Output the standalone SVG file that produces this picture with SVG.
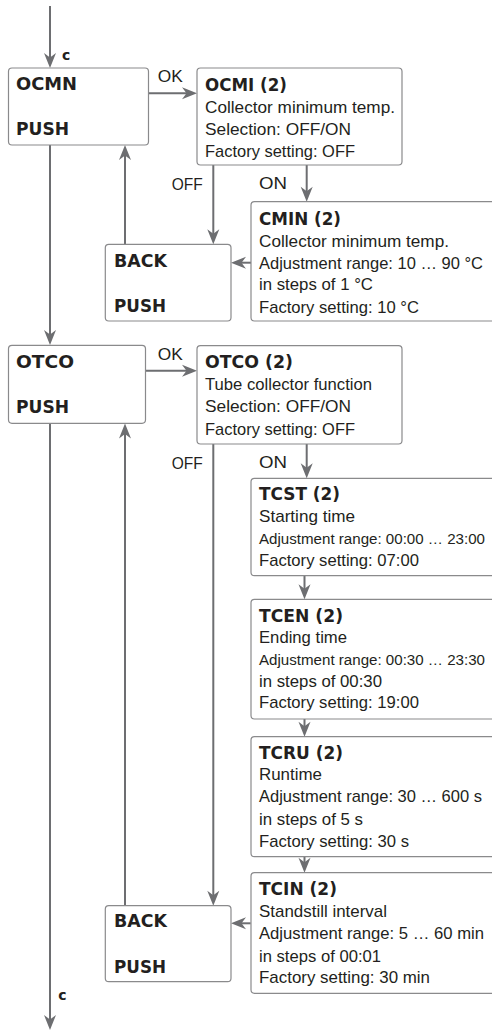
<svg xmlns="http://www.w3.org/2000/svg" width="492" height="1032" viewBox="0 0 492 1032">
<style>
.box{fill:#ffffff;stroke:#8a8a8c;stroke-width:1.2}
.t{font-family:"Liberation Sans",Arial,sans-serif;font-size:17px;fill:#231f20}
.n{font-size:15.4px}
.b{font-family:"DejaVu Sans","Liberation Sans",sans-serif;font-weight:bold;font-size:17px;fill:#231f20}
.c{font-family:"DejaVu Sans","Liberation Sans",sans-serif;font-weight:bold;font-size:14px;fill:#231f20}
.ln{stroke:#6d6e71;stroke-width:2;fill:none;marker-end:url(#ah)}
</style>
<defs>
<marker id="ah" viewBox="-16 -7 16 14" refX="-4" refY="0" markerWidth="16" markerHeight="14" markerUnits="userSpaceOnUse" orient="auto">
<path d="M0,0 L-15,-6 L-10.5,0 L-15,6 Z" fill="#6d6e71"/>
</marker>
</defs>
<rect width="492" height="1032" fill="#ffffff"/>

<g id="connectors">
<line class="ln" x1="50" y1="6" x2="50" y2="64"/>
<line class="ln" x1="149" y1="93.3" x2="193" y2="93.3"/>
<line class="ln" x1="50" y1="145" x2="50" y2="341"/>
<line class="ln" x1="125" y1="244.3" x2="125" y2="149"/>
<line class="ln" x1="213.3" y1="165" x2="213.3" y2="240.3"/>
<line class="ln" x1="306.7" y1="165" x2="306.7" y2="197.7"/>
<line class="ln" x1="251" y1="262.7" x2="235" y2="262.7"/>
<line class="ln" x1="145.5" y1="370.7" x2="193" y2="370.7"/>
<line class="ln" x1="50" y1="423.3" x2="50" y2="1026"/>
<line class="ln" x1="125" y1="905.7" x2="125" y2="427.5"/>
<line class="ln" x1="213.3" y1="444" x2="213.3" y2="901.7"/>
<line class="ln" x1="306.7" y1="444" x2="306.7" y2="474.3"/>
<line class="ln" x1="304.5" y1="575.7" x2="304.5" y2="595.3"/>
<line class="ln" x1="304.5" y1="719" x2="304.5" y2="732.7"/>
<line class="ln" x1="304.5" y1="856.7" x2="304.5" y2="868.7"/>
<line class="ln" x1="250.7" y1="923.3" x2="235" y2="923.3"/>
<text class="c" x="62" y="60">c</text>
<text class="t" x="157.7" y="81.7" textLength="25" lengthAdjust="spacingAndGlyphs">OK</text>
<text class="t" x="171.7" y="190" textLength="31" lengthAdjust="spacingAndGlyphs">OFF</text>
<text class="t" x="259" y="189.3" textLength="28" lengthAdjust="spacingAndGlyphs">ON</text>
<text class="t" x="157.7" y="360" textLength="25" lengthAdjust="spacingAndGlyphs">OK</text>
<text class="t" x="171.7" y="469.3" textLength="31" lengthAdjust="spacingAndGlyphs">OFF</text>
<text class="t" x="259" y="468.3" textLength="28" lengthAdjust="spacingAndGlyphs">ON</text>
<text class="c" x="58.3" y="1000">c</text>
</g>

<g id="OCMN">
<rect class="box" x="8.5" y="68" width="140" height="77" rx="3.5"/>
<text class="b" x="16" y="90" textLength="61" lengthAdjust="spacingAndGlyphs">OCMN</text>
<text class="b" x="16" y="135" textLength="53" lengthAdjust="spacingAndGlyphs">PUSH</text>
</g>

<g id="OCMI">
<rect class="box" x="197" y="68" width="205" height="97" rx="3.5"/>
<text class="b" x="205" y="90.7" textLength="82" lengthAdjust="spacingAndGlyphs">OCMI (2)</text>
<text class="t" x="205" y="113.3" textLength="190" lengthAdjust="spacingAndGlyphs">Collector minimum temp.</text>
<text class="t" x="205" y="135" textLength="146" lengthAdjust="spacingAndGlyphs">Selection: OFF/ON</text>
<text class="t" x="205" y="156.7" textLength="150" lengthAdjust="spacingAndGlyphs">Factory setting: OFF</text>
</g>

<g id="CMIN">
<rect class="box" x="251" y="201.7" width="260" height="119.3" rx="3.5"/>
<text class="b" x="259" y="225" textLength="82" lengthAdjust="spacingAndGlyphs">CMIN (2)</text>
<text class="t" x="259" y="246.7" textLength="190" lengthAdjust="spacingAndGlyphs">Collector minimum temp.</text>
<text class="t" x="259" y="268.5" textLength="224" lengthAdjust="spacingAndGlyphs">Adjustment range: 10 … 90 °C</text>
<text class="t" x="259" y="290.3" textLength="114" lengthAdjust="spacingAndGlyphs">in steps of 1 °C</text>
<text class="t" x="259" y="312.8" textLength="160" lengthAdjust="spacingAndGlyphs">Factory setting: 10 °C</text>
</g>

<g id="BACK1">
<rect class="box" x="105.3" y="244.3" width="125.7" height="76.7" rx="3.5"/>
<text class="b" x="114" y="267.3" textLength="53" lengthAdjust="spacingAndGlyphs">BACK</text>
<text class="b" x="114" y="312.3" textLength="52" lengthAdjust="spacingAndGlyphs">PUSH</text>
</g>

<g id="OTCO">
<rect class="box" x="8.5" y="345.3" width="137" height="78" rx="3.5"/>
<text class="b" x="16" y="367.7" textLength="58" lengthAdjust="spacingAndGlyphs">OTCO</text>
<text class="b" x="16" y="413.3" textLength="53" lengthAdjust="spacingAndGlyphs">PUSH</text>
</g>

<g id="OTCO2">
<rect class="box" x="197" y="345.7" width="205" height="98.3" rx="3.5"/>
<text class="b" x="205" y="368.3" textLength="88" lengthAdjust="spacingAndGlyphs">OTCO (2)</text>
<text class="t" x="205" y="390" textLength="167" lengthAdjust="spacingAndGlyphs">Tube collector function</text>
<text class="t" x="205" y="412" textLength="146" lengthAdjust="spacingAndGlyphs">Selection: OFF/ON</text>
<text class="t" x="205" y="434.5" textLength="150" lengthAdjust="spacingAndGlyphs">Factory setting: OFF</text>
</g>

<g id="TCST">
<rect class="box" x="251" y="478.3" width="260" height="97.4" rx="3.5"/>
<text class="b" x="259" y="500" textLength="81" lengthAdjust="spacingAndGlyphs">TCST (2)</text>
<text class="t" x="259" y="521.8" textLength="96" lengthAdjust="spacingAndGlyphs">Starting time</text>
<text class="t n" x="259" y="543.6" textLength="226" lengthAdjust="spacingAndGlyphs">Adjustment range: 00:00 … 23:00</text>
<text class="t" x="259" y="565.8" textLength="160" lengthAdjust="spacingAndGlyphs">Factory setting: 07:00</text>
</g>

<g id="TCEN">
<rect class="box" x="251" y="599.3" width="260" height="119.7" rx="3.5"/>
<text class="b" x="259" y="621.5" textLength="84" lengthAdjust="spacingAndGlyphs">TCEN (2)</text>
<text class="t" x="259" y="643" textLength="88" lengthAdjust="spacingAndGlyphs">Ending time</text>
<text class="t n" x="259" y="664.5" textLength="226" lengthAdjust="spacingAndGlyphs">Adjustment range: 00:30 … 23:30</text>
<text class="t" x="259" y="686.5" textLength="123" lengthAdjust="spacingAndGlyphs">in steps of 00:30</text>
<text class="t" x="259" y="708.3" textLength="160" lengthAdjust="spacingAndGlyphs">Factory setting: 19:00</text>
</g>

<g id="TCRU">
<rect class="box" x="251" y="736.7" width="260" height="120" rx="3.5"/>
<text class="b" x="259" y="758.5" textLength="84" lengthAdjust="spacingAndGlyphs">TCRU (2)</text>
<text class="t" x="259" y="780" textLength="63" lengthAdjust="spacingAndGlyphs">Runtime</text>
<text class="t" x="259" y="802" textLength="223" lengthAdjust="spacingAndGlyphs">Adjustment range: 30 … 600 s</text>
<text class="t" x="259" y="824.5" textLength="104" lengthAdjust="spacingAndGlyphs">in steps of 5 s</text>
<text class="t" x="259" y="846.7" textLength="150" lengthAdjust="spacingAndGlyphs">Factory setting: 30 s</text>
</g>

<g id="TCIN">
<rect class="box" x="251" y="872.7" width="260" height="120.6" rx="3.5"/>
<text class="b" x="259" y="895" textLength="78" lengthAdjust="spacingAndGlyphs">TCIN (2)</text>
<text class="t" x="259" y="916.7" textLength="128" lengthAdjust="spacingAndGlyphs">Standstill interval</text>
<text class="t" x="259" y="939.3" textLength="225" lengthAdjust="spacingAndGlyphs">Adjustment range: 5 … 60 min</text>
<text class="t" x="259" y="961.7" textLength="122" lengthAdjust="spacingAndGlyphs">in steps of 00:01</text>
<text class="t" x="259" y="983.3" textLength="171" lengthAdjust="spacingAndGlyphs">Factory setting: 30 min</text>
</g>

<g id="BACK2">
<rect class="box" x="105.3" y="905.7" width="125.7" height="76" rx="3.5"/>
<text class="b" x="114" y="926.7" textLength="53" lengthAdjust="spacingAndGlyphs">BACK</text>
<text class="b" x="114" y="972.7" textLength="52" lengthAdjust="spacingAndGlyphs">PUSH</text>
</g>
</svg>
